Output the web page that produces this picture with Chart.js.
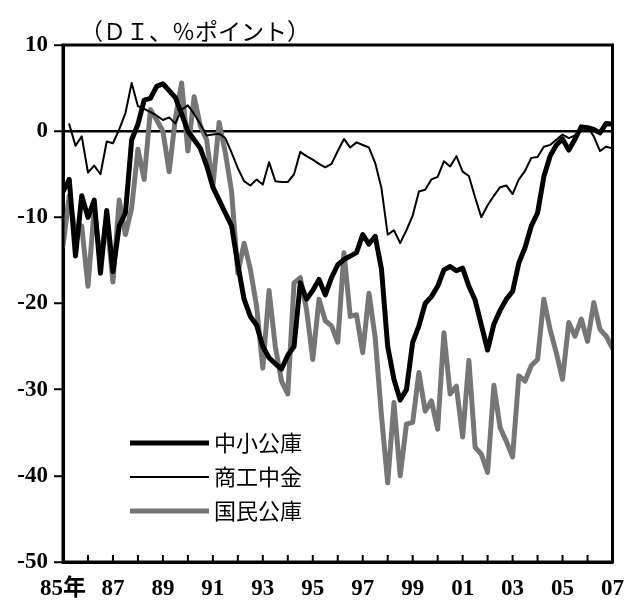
<!DOCTYPE html>
<html><head><meta charset="utf-8">
<script src="https://cdn.jsdelivr.net/npm/chart.js@4/dist/chart.umd.min.js"></script>
<style>html,body{margin:0;padding:0;background:#fff;}canvas{display:block}</style>
</head><body>
<canvas id="c" width="637" height="608"></canvas>
<script>
// quarterly data, first point = 1985 Q1
const startYear = 1985;
const seriesNames = ['中小公庫', '商工中金', '国民公庫'];
const unitLabel = '（ＤＩ、％ポイント）';

const chushoKoko = [
  -7.0, -5.6, -14.5, -7.5, -10.0, -8.0, -16.5, -9.2, -16.3, -11.0,
  -9.5, -1.0, 0.8, 3.6, 3.8, 5.2, 5.5, 4.7, 3.9, 2.0,
  0.0, -1.0, -2.0, -4.0, -6.5, -8.0, -9.5, -11.0, -15.5, -19.5,
  -21.5, -22.5, -25.0, -26.3, -27.0, -27.6, -26.0, -25.0, -17.6, -19.5,
  -18.5, -17.2, -19.0, -17.0, -15.5, -14.9, -14.5, -14.1, -12.0, -13.1,
  -12.2, -16.0, -25.0, -28.8, -31.2, -30.0, -24.5, -22.6, -20.0, -19.2,
  -18.0, -16.1, -15.7, -16.2, -15.9, -18.0, -19.6, -22.5, -25.4, -22.4,
  -20.8, -19.5, -18.6, -15.3, -13.5, -11.0, -9.5, -5.3, -2.9, -1.6,
  -0.9, -2.2, -0.9, 0.5, 0.4, 0.2, -0.2, 0.9, 0.8
];
const shokoChukin = [
  null, 0.8, -1.7, -0.6, -4.8, -4.0, -5.0, -1.2, -1.4, 0.2,
  2.1, 5.6, 2.9, 2.6, 2.2, 1.8, 1.3, 1.6, 0.9, 2.5,
  3.0, 2.0, 0.8, -0.5, -0.4, -0.3, -0.8, -2.5, -4.3, -5.8,
  -6.3, -5.6, -6.2, -3.6, -5.8, -5.9, -5.9, -5.0, -2.4, -2.9,
  -3.3, -3.8, -4.2, -3.8, -2.3, -0.9, -1.9, -1.3, -1.6, -1.9,
  -3.7, -6.6, -12.0, -11.5, -13.0, -11.5, -9.8, -7.0, -6.8, -5.6,
  -5.3, -3.5, -4.1, -2.9, -4.7, -5.2, -7.7, -10.0, -8.6, -7.5,
  -6.5, -6.3, -7.3, -5.6, -4.6, -3.1, -3.0, -1.8, -1.6, -1.0,
  -0.4, -0.8, -0.5, 0.3, 0.5, -0.6, -2.3, -1.8, -2.0
];
const kokuminKoko = [
  -13.3, -7.5, -12.0, -11.0, -18.0, -9.0, -15.0, -10.0, -17.5, -8.0,
  -12.0, -8.9, -2.1, -5.6, 2.5, 1.3, 0.0, -4.7, 1.5, 5.6,
  -2.3, 4.0, 0.6, -1.0, -6.4, 1.0, -2.5, -7.0, -16.5, -13.0,
  -16.0, -20.3, -27.5, -18.5, -25.0, -29.0, -30.5, -17.6, -17.0, -20.7,
  -26.5, -19.5, -22.0, -22.6, -24.5, -14.1, -21.5, -21.3, -25.7, -18.8,
  -24.0, -33.0, -40.8, -31.5, -40.0, -34.0, -33.8, -28.0, -32.5, -31.3,
  -34.6, -23.4, -30.5, -29.6, -35.5, -26.6, -36.7, -37.5, -39.6, -29.5,
  -34.4, -36.0, -37.8, -28.4, -29.0, -27.2, -26.5, -19.5, -23.0, -25.7,
  -28.8, -22.2, -23.8, -21.8, -24.4, -19.9, -23.0, -23.8, -25.2
];

const yTickValues = [10, 0, -10, -20, -30, -40, -50];
const xTickYears = [1985,1986,1987,1988,1989,1990,1991,1992,1993,1994,1995,1996,
  1997,1998,1999,2000,2001,2002,2003,2004,2005,2006,2007];
const xTickLabels = ['85年','','87','','89','','91','','93','','95','','97','','99','',
  '01','','03','','05','','07'];

const toPoints = arr => arr.map((v, i) => ({ x: startYear + i / 4, y: v }));

const FONT_NUM = '"Liberation Serif", "Noto Sans CJK JP", serif';
const FONT_JP = '"Noto Sans CJK JP", sans-serif';

const decorPlugin = {
  id: 'decor',
  afterDraw(chart) {
    const ctx = chart.ctx;
    const { left, right, top, bottom } = chart.chartArea;
    ctx.save();
    ctx.strokeStyle = '#000';
    ctx.lineWidth = 3;
    ctx.strokeRect(left, top, right - left, bottom - top);
    const xs = chart.scales.x;
    ctx.lineWidth = 2;
    xs.ticks.forEach(t => {
      const px = xs.getPixelForValue(t.value);
      if (px > left + 2 && px < right - 2) {
        ctx.beginPath();
        ctx.moveTo(px, bottom);
        ctx.lineTo(px, bottom - 7);
        ctx.stroke();
      }
    });
    ctx.fillStyle = '#000';
    ctx.font = '23px ' + FONT_JP;
    ctx.textBaseline = 'middle';
    ctx.textAlign = 'left';
    ctx.fillText(unitLabel, 80, 31);
    const rows = [443, 477, 511];
    chart.data.datasets.forEach((ds, i) => {
      const y = rows[i];
      ctx.strokeStyle = ds.borderColor;
      ctx.lineWidth = ds.borderWidth;
      ctx.beginPath();
      ctx.moveTo(130, y);
      ctx.lineTo(209, y);
      ctx.stroke();
      ctx.fillStyle = '#000';
      ctx.font = '22px ' + FONT_JP;
      ctx.fillText(ds.label, 214, y);
    });
    ctx.restore();
  }
};

new Chart(document.getElementById('c'), {
  type: 'line',
  data: {
    datasets: [
      { label: seriesNames[0], data: toPoints(chushoKoko), borderColor: '#000', borderWidth: 5, order: 1 },
      { label: seriesNames[1], data: toPoints(shokoChukin), borderColor: '#000', borderWidth: 2, order: 0 },
      { label: seriesNames[2], data: toPoints(kokuminKoko), borderColor: '#767676', borderWidth: 5, order: 2 }
    ]
  },
  options: {
    responsive: false,
    animation: false,
    devicePixelRatio: 1,
    layout: { padding: { left: 0, right: 11, top: 45, bottom: 0 } },
    elements: { point: { radius: 0 }, line: { tension: 0, borderJoinStyle: 'round', borderCapStyle: 'round' } },
    plugins: { legend: { display: false }, tooltip: { enabled: false }, title: { display: false } },
    scales: {
      x: {
        type: 'linear', min: 1985, max: 2007,
        afterBuildTicks: s => { s.ticks = xTickYears.map(v => ({ value: v })); },
        ticks: {
          autoSkip: false, maxRotation: 0, minRotation: 0, color: '#000', padding: 13,
          font: { family: FONT_NUM, size: 23, weight: 'bold' },
          callback: (v) => { const k = xTickYears.indexOf(v); return k >= 0 ? xTickLabels[k] : ''; }
        },
        grid: { display: true, drawOnChartArea: false, drawTicks: false },
        border: { display: true, color: '#000', width: 3 },
        afterFit: s => { s.height = 46; }
      },
      y: {
        min: -50, max: 10,
        afterBuildTicks: s => { s.ticks = yTickValues.map(v => ({ value: v })); },
        ticks: {
          color: '#000', padding: 6,
          font: { family: FONT_NUM, size: 23, weight: 'bold' }
        },
        grid: {
          drawOnChartArea: true,
          color: c => (c.tick && c.tick.value === 0) ? '#000' : 'rgba(0,0,0,0)',
          lineWidth: 2.5,
          tickColor: '#000', tickLength: 9, tickWidth: 2
        },
        border: { display: true, color: '#000', width: 3 },
        afterFit: s => { s.width = 63; }
      }
    }
  },
  plugins: [decorPlugin]
});
</script>
</body></html>
